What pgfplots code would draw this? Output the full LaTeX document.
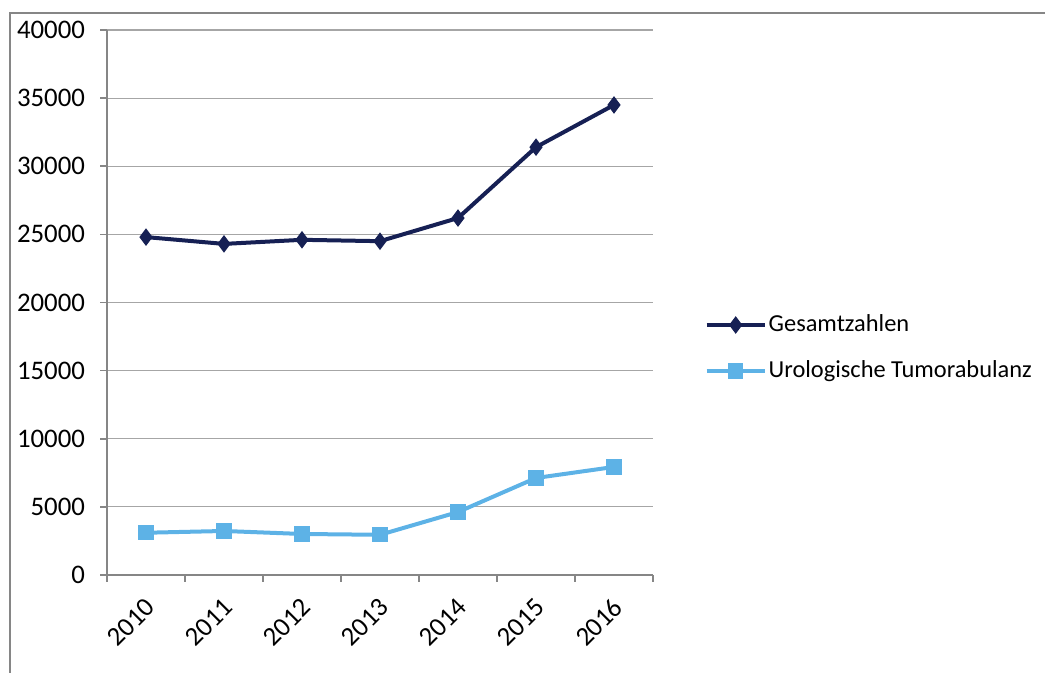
\documentclass[border=0pt]{standalone}
\usepackage{fontspec}
\setmainfont{Carlito}
\usepackage{pgfplots}
\pgfplotsset{compat=1.18}

\definecolor{gesamt}{RGB}{22,32,84}
\definecolor{uro}{RGB}{93,178,230}
\definecolor{axgray}{RGB}{134,134,134}
\definecolor{gridgray}{RGB}{166,166,166}

\begin{document}
\begin{tikzpicture}
% picture area: 1045 x 673 px at 0.5pt per px
\useasboundingbox (0,0) rectangle (522.5pt,336.5pt);
\draw[axgray, line width=0.6pt] (5pt,0) -- (5pt,330pt) -- (522.5pt,330pt);

\begin{axis}[
    at={(53.5pt,49pt)}, anchor=south west,
    scale only axis,
    width=273pt, height=272.5pt,
    xmin=-0.5, xmax=6.5,
    ymin=0, ymax=40000,
    xtick={0,...,6},
    xticklabels={2010,2011,2012,2013,2014,2015,2016},
    minor xtick={-0.5,0.5,...,6.5},
    ytick={0,5000,...,40000},
    scaled y ticks=false,
    /pgf/number format/assume math mode=true,
    yticklabel={\pgfmathprintnumber[fixed,1000 sep={}]{\tick}},
    axis x line*=bottom, axis y line*=left,
    axis line style={axgray, line width=0.8pt, -},
    tick align=outside,
    major x tick style={draw=none},
    minor x tick style={axgray, line width=0.8pt},
    major y tick style={axgray, line width=0.8pt},
    major tick length=3.5pt, minor tick length=3.5pt,
    ymajorgrids,
    grid style={gridgray, line width=0.6pt},
    tick label style={font=\fontsize{13.4}{15}\selectfont, text=black},
    xticklabel style={rotate=45, anchor=east, yshift=-9pt, xshift=-2.5pt},
    yticklabel style={xshift=-4pt},
    legend style={at={(1.083,0.4165)}, anchor=west, draw=none, fill=none,
        font=\fontsize{12.2}{14}\selectfont, row sep=9pt,
        nodes={inner xsep=1pt},
        /tikz/every even column/.append style={column sep=0pt}},
    legend cell align=left,
    legend image code/.code={
        \draw[#1, mark=none] (0pt,0pt) -- (29pt,0pt);
        \draw[#1, only marks] plot coordinates {(14.5pt,0pt)};
    },
]
\addplot[gesamt, line width=2pt, mark=diamond*, mark size=4pt,
    mark options={solid, fill=gesamt, line width=0.5pt}]
coordinates {
    (0,24800)(1,24300)(2,24600)(3,24500)(4,26200)(5,31400)(6,34500)
};
\addlegendentry{Gesamtzahlen}

\addplot[uro, line width=2pt, mark=square*, mark size=3.6pt,
    mark options={solid, fill=uro, line width=0.5pt}]
coordinates {
    (0,3100)(1,3230)(2,3010)(3,2950)(4,4620)(5,7120)(6,7930)
};
\addlegendentry{Urologische Tumorabulanz}
\end{axis}
\end{tikzpicture}
\end{document}
